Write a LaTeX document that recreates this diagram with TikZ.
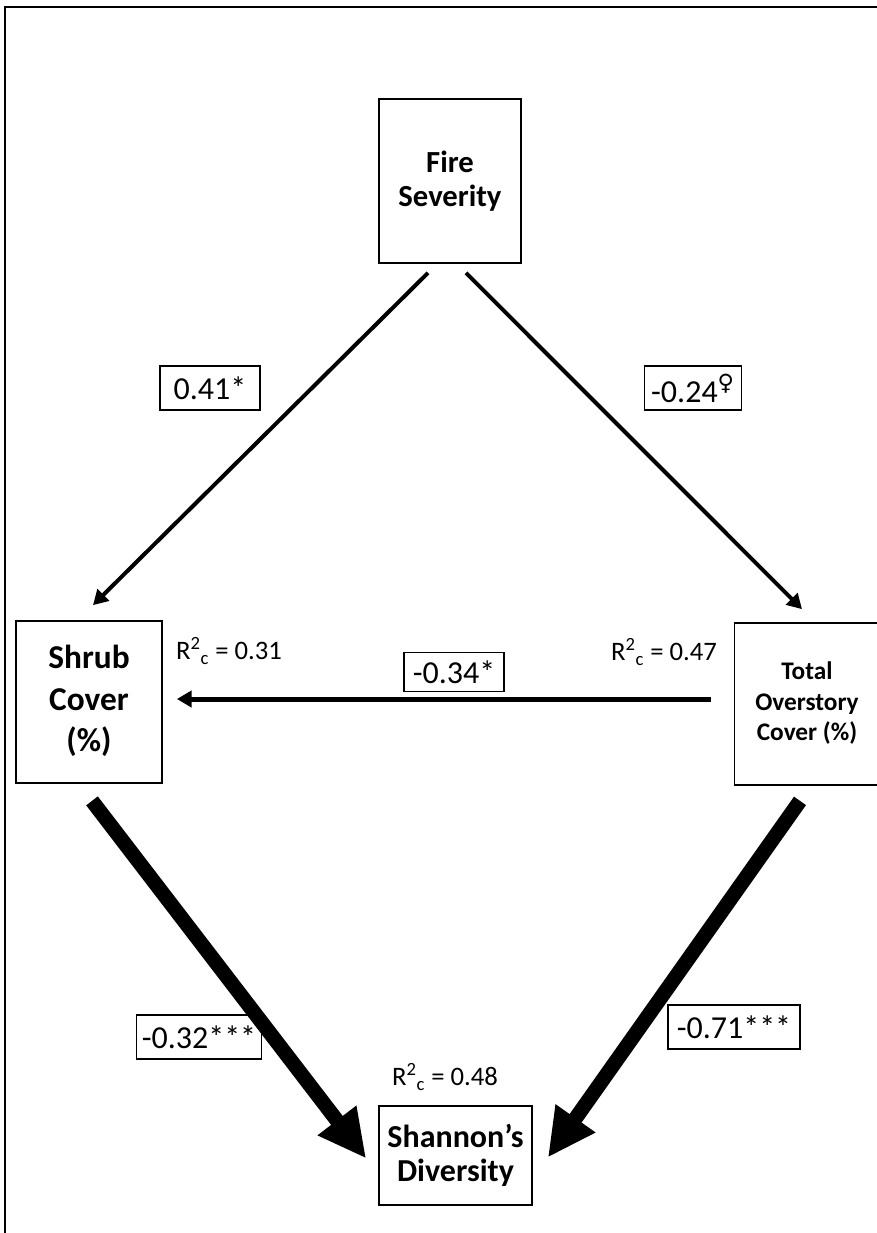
\documentclass[tikz,border=0pt]{standalone}
\usepackage{fontspec}
\setmainfont{Carlito}
\newfontfamily\symbfont{DejaVu Sans}
\usetikzlibrary{arrows.meta,calc}
\tikzset{
  var/.style={draw,line width=1.3pt,align=center},
  coef/.style={draw,line width=1pt,inner xsep=4pt,minimum height=33pt,font=\fontsize{24}{28}\selectfont},
  rsq/.style={font=\fontsize{20}{24}\selectfont},
  thinpath/.style={line width=3pt,-{Triangle[length=11pt,width=12pt]}},
  thickpath/.style={line width=11pt,-{Triangle[length=36pt,width=34pt]}}
}
\begin{document}
\begin{tikzpicture}[x=0.75pt,y=-0.75pt]
\clip (0,0) rectangle (877,1233);
\draw[line width=1.5pt] (5,1240)--(5,7)--(885,7);
\node[var,minimum width=106.5pt,minimum height=123pt,font=\bfseries\fontsize{23}{26}\selectfont] (fire) at (450,181) {Fire\\Severity};
\node[var,minimum width=109.5pt,minimum height=121.5pt,font=\bfseries\fontsize{25}{31}\selectfont] (shrub) at (89,702) {\raisebox{-7pt}{\begin{tabular}{@{}c@{}}Shrub\\Cover\\(\%)\end{tabular}}};
\node[var,minimum width=108.75pt,minimum height=121.5pt,font=\bfseries\fontsize{19}{23}\selectfont] (over) at (807,704) {\raisebox{4.5pt}{\begin{tabular}{@{}c@{}}Total\\Overstory\\Cover (\%)\end{tabular}}};
\node[var,minimum width=114.75pt,minimum height=74.25pt,font=\bfseries\fontsize{24}{25}\selectfont] (shannon) at (455.5,1155.5) {Shannon’s\\Diversity};
\node[rsq] (rshrub) at (229,651) {R\textsuperscript{2}\textsubscript{c} = 0.31};
\node[rsq] (rover) at (664,652) {R\textsuperscript{2}\textsubscript{c} = 0.47};
\node[rsq] (rshannon) at (445,1077) {R\textsuperscript{2}\textsubscript{c} = 0.48};
\draw[thinpath] ($(fire.south)+(-22,9)$) -- ($(shrub.north)+(4,-15)$);
\draw[thinpath] ($(fire.south)+(16,9)$) -- ($(over.north)+(-5,-13)$);
\draw[thinpath,line width=3.75pt] ($(over.west)+(-23,-5)$) -- ($(shrub.east)+(14,-3)$);
\draw[thickpath] ($(shrub.south)+(3,17)$) -- ($(shannon.west)+(-12,3)$);
\draw[thickpath] ($(over.south)+(-7,15)$) -- ($(shannon.east)+(15,2)$);
\node[coef,minimum width=75pt] (c1) at (210,388) {0.41*};
\node[coef,minimum width=73pt] (c2) at (693,388) {-0.24\textsuperscript{\symbfont ♀}};
\node[coef,minimum width=75pt,minimum height=29pt] (c3) at (454,672) {-0.34*};
\node[coef,minimum width=84pt] (c4) at (199,1037) {-0.32***};
\node[coef,minimum width=99pt] (c5) at (734,1027) {-0.71***};
\end{tikzpicture}
\end{document}
